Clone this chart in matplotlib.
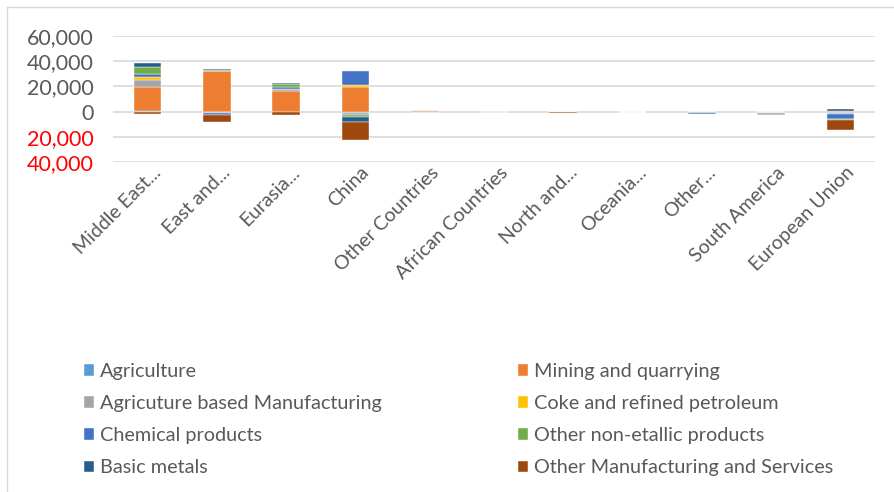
import numpy as np
import matplotlib.pyplot as plt
from matplotlib.ticker import FuncFormatter, MultipleLocator
from matplotlib.lines import Line2D
from matplotlib.transforms import ScaledTranslation

plt.rcParams['font.family'] = ['Lato', 'DejaVu Sans']

categories = ["Middle East...", "East and...", "Eurasia...", "China", "Other Countries",
              "African Countries", "North and...", "Oceania...", "Other...",
              "South America", "European Union"]

agriculture = [800, -300, -500, -800, 0, 0, 0, 0, -300, -800, -800]
mining = [18500, 32000, 16000, 19200, 300, 0, 0, 0, 0, 0, 600]
agri_manuf = [6000, -500, 1800, -2100, 700, 200, -300, -300, 0, -1800, -1300]
coke = [2000, 300, 200, 2100, 0, 0, 0, 0, 0, 0, 200]
chemical = [2800, -1700, 1800, 11000, 0, 0, 0, 0, -1200, 0, -3900]
non_metallic = [5500, 500, 2100, -1000, 0, 0, 0, 0, 0, 0, -800]
basic_metals = [3200, 1300, 1000, -4700, 0, 0, 0, 0, -500, 0, 1500]
other_manuf = [-2200, -5900, -2300, -14000, 0, 0, -500, -300, 0, -300, -8000]

series_names = ["Agriculture", "Mining and quarrying", "Agricuture based Manufacturing",
                "Coke and refined petroleum", "Chemical products", "Other non-etallic products",
                "Basic metals", "Other Manufacturing and Services"]
series_values = [agriculture, mining, agri_manuf, coke, chemical, non_metallic,
                 basic_metals, other_manuf]
colors = ["#5B9BD5", "#ED7D31", "#A5A5A5", "#FFC000", "#4472C4", "#70AD47",
          "#255E91", "#9E480E"]

fig = plt.figure(figsize=(8.95, 4.92), dpi=100)
ax = fig.add_axes([113 / 895, 1 - 162 / 492, (875 - 113) / 895, (162 - 36) / 492])

x = np.arange(len(categories))
pos_bottom = np.zeros(len(categories))
neg_bottom = np.zeros(len(categories))
handles = []
for name, vals, col in zip(series_names, series_values, colors):
    v = np.array(vals, dtype=float)
    bottom = np.where(v >= 0, pos_bottom, neg_bottom)
    h = ax.bar(x, v, bottom=bottom, width=0.4, color=col, label=name,
               edgecolor="white", linewidth=0.3, zorder=3)
    handles.append(h)
    pos_bottom = pos_bottom + np.where(v > 0, v, 0)
    neg_bottom = neg_bottom + np.where(v < 0, v, 0)

ax.set_xlim(-0.5, len(categories) - 0.5)
ax.set_ylim(-40000, 60000)
ax.yaxis.set_major_locator(MultipleLocator(20000))
ax.yaxis.set_major_formatter(FuncFormatter(lambda v, p: f"{abs(v):,.0f}"))
ax.grid(axis="y", color="#d9d9d9", linewidth=1.2, zorder=0)
for s in ax.spines.values():
    s.set_visible(False)
ax.tick_params(axis="both", length=0)
ax.tick_params(axis="y", pad=14, labelsize=15.5, labelcolor="#595959")

ax.set_xticks(x)
ax.set_xticklabels(categories, rotation=45, ha="right", va="top",
                   rotation_mode="anchor", fontsize=14, color="#595959")
ax.tick_params(axis="x", pad=2)
shift = ScaledTranslation(5 / 100, 1 / 100, fig.dpi_scale_trans)
for lbl in ax.get_xticklabels():
    lbl.set_transform(lbl.get_transform() + shift)

fig.canvas.draw()
for lbl, val in zip(ax.get_yticklabels(), ax.get_yticks()):
    if val < 0:
        lbl.set_color("red")

# legend, row-wise in two columns
order_left = [0, 2, 4, 6]
order_right = [1, 3, 5, 7]
for idx, xpos in [(order_left, 84), (order_right, 518)]:
    fig.legend([handles[i] for i in idx], [series_names[i] for i in idx],
               loc="upper left", bbox_to_anchor=(xpos / 895, 1 - 363 / 492),
               frameon=False, fontsize=14.3, labelcolor="#595959",
               handlelength=0.5, handleheight=0.5, handletextpad=0.3,
               labelspacing=0.76, borderaxespad=0, borderpad=0)

# chart border
fig.add_artist(Line2D([7 / 895, 7 / 895], [0, 1 - 7 / 492], color="#d9d9d9", linewidth=1))
fig.add_artist(Line2D([7 / 895, 1], [1 - 7 / 492, 1 - 7 / 492], color="#d9d9d9", linewidth=1))

fig.savefig("out.png", dpi=100)
